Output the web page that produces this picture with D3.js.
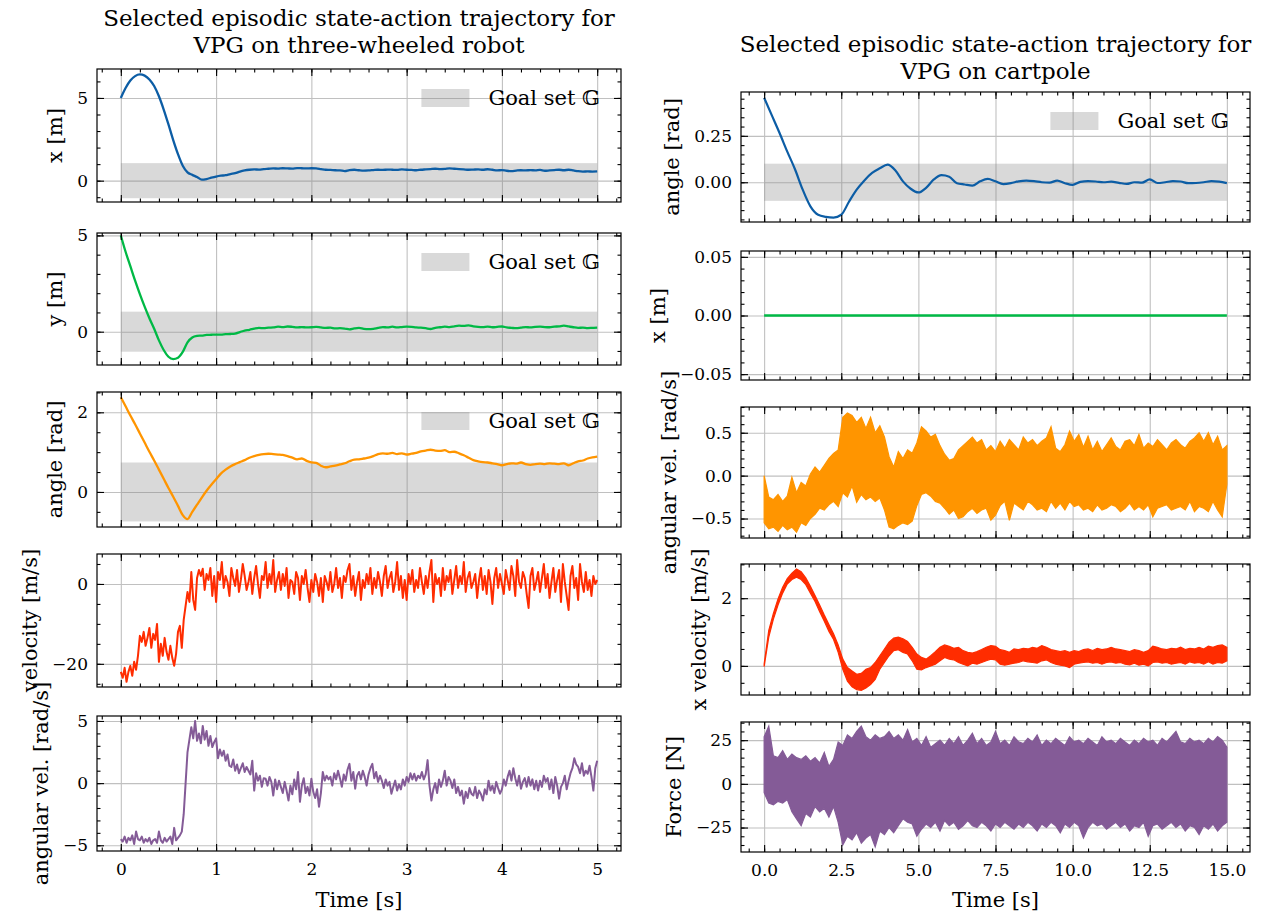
<!DOCTYPE html>
<html>
<head>
<meta charset="utf-8">
<script src="https://cdn.jsdelivr.net/npm/d3@7"></script>
<style>
  body { margin: 0; background: #fff; }
  svg text { font-family: "DejaVu Serif", "Liberation Serif", serif; fill: #000; }
  .tick text { font-size: 17px; }
  .ylabel, .xlabel, .legend { font-size: 21px; }
  .title { font-size: 23px; }
</style>
</head>
<body>
<svg id="fig" width="1262" height="917"></svg>
<script>
// ---------------- three-wheeled robot (sampled every 0.05 s / 0.02 s) ----------------
const robotTime = d3.range(0, 5.0001, 0.05);
const robotX = [5.00,5.60,6.05,6.32,6.42,6.35,6.12,5.72,5.10,4.30,3.40,2.45,1.60,0.90,0.50,0.35,0.22,0.06,0.10,0.18,
  0.25,0.30,0.33,0.40,0.45,0.55,0.62,0.66,0.68,0.67,0.70,0.72,0.74,0.73,0.75,0.74,0.73,0.76,0.75,0.74,
  0.75,0.74,0.70,0.66,0.65,0.63,0.62,0.58,0.64,0.66,0.63,0.61,0.62,0.64,0.66,0.65,0.67,0.66,0.65,0.68,
  0.66,0.65,0.63,0.66,0.68,0.70,0.72,0.70,0.71,0.74,0.72,0.70,0.68,0.66,0.67,0.68,0.66,0.69,0.66,0.62,
  0.64,0.60,0.58,0.61,0.63,0.62,0.64,0.62,0.65,0.60,0.62,0.64,0.66,0.63,0.66,0.62,0.57,0.55,0.56,0.55,0.56];
const robotY = [5.00,4.15,3.40,2.65,1.95,1.30,0.70,0.15,-0.45,-0.95,-1.30,-1.42,-1.35,-1.05,-0.55,-0.30,-0.22,-0.20,-0.17,-0.16,
  -0.15,-0.15,-0.13,-0.12,-0.10,-0.02,0.06,0.10,0.16,0.20,0.18,0.21,0.22,0.26,0.24,0.27,0.25,0.22,0.24,0.22,
  0.23,0.25,0.22,0.20,0.21,0.17,0.18,0.16,0.12,0.17,0.20,0.15,0.13,0.15,0.20,0.24,0.22,0.26,0.22,0.24,
  0.26,0.25,0.22,0.21,0.18,0.14,0.20,0.23,0.26,0.24,0.28,0.31,0.30,0.33,0.28,0.25,0.24,0.26,0.23,0.25,
  0.27,0.22,0.20,0.18,0.21,0.24,0.22,0.25,0.26,0.24,0.23,0.26,0.28,0.31,0.27,0.23,0.20,0.21,0.19,0.20,0.21];
const robotAngle = [2.38,2.15,1.92,1.70,1.47,1.24,1.01,0.79,0.56,0.33,0.10,-0.12,-0.35,-0.58,-0.68,-0.50,-0.32,-0.14,0.03,0.18,
  0.32,0.46,0.56,0.64,0.70,0.75,0.80,0.86,0.90,0.93,0.95,0.96,0.95,0.94,0.93,0.90,0.86,0.82,0.84,0.78,
  0.74,0.73,0.66,0.62,0.64,0.66,0.69,0.72,0.77,0.81,0.82,0.84,0.86,0.90,0.95,0.97,0.96,0.98,0.95,0.97,
  0.94,0.96,0.98,1.02,1.04,1.06,1.04,1.03,1.05,1.00,1.01,0.97,0.92,0.86,0.80,0.77,0.75,0.74,0.72,0.70,
  0.67,0.70,0.72,0.71,0.74,0.70,0.68,0.70,0.71,0.70,0.72,0.71,0.70,0.72,0.67,0.72,0.77,0.79,0.84,0.87,0.89];

const robotFastTime = d3.range(0, 5.0001, 0.02);
const robotVel = [-22.0,-23.5,-21.0,-24.5,-22.0,-20.5,-23.0,-19.5,-21.5,-18.0,
  -13.0,-14.5,-12.0,-15.5,-13.5,-11.0,-16.0,-12.5,-14.0,-10.0,
  -19.5,-15.0,-18.0,-13.5,-17.0,-19.0,-15.5,-18.5,-20.5,-17.5,
  -12.0,-10.5,-16.0,-9.0,-5.5,-2.0,-4.5,3.0,-4.0,-6.5,
  1.5,3.5,2.0,3.8,-1.5,2.5,1.0,4.0,-3.0,2.0,
  -4.5,3.0,1.0,5.5,-1.0,2.0,0.5,-3.0,4.0,1.5,
  -0.5,3.5,-2.0,1.0,5.0,2.0,-1.5,0.5,3.0,-2.5,
  1.5,4.5,0.0,-3.5,2.0,1.0,5.5,-1.0,2.5,0.0,
  6.0,-2.0,1.0,3.0,-1.5,2.5,-0.5,4.0,-3.5,1.0,
  0.5,-2.5,3.0,1.5,-4.0,2.0,0.0,3.5,-1.0,-4.5,
  1.0,-2.0,2.5,0.5,-3.0,1.5,-4.5,2.0,0.5,-1.5,
  3.0,-2.0,0.0,4.0,-1.0,1.5,-3.5,2.0,0.5,3.5,
  5.0,-1.5,2.0,-3.0,0.5,3.0,-4.0,1.0,-1.0,2.5,
  0.0,4.0,-2.5,1.5,-1.0,3.0,0.5,-3.0,2.0,4.5,
  -1.0,1.5,3.0,-2.0,0.5,5.5,-1.5,2.0,-3.5,1.0,
  -4.0,2.5,0.0,3.5,-2.0,1.0,-1.0,4.0,0.5,-2.5,
  2.0,-1.0,3.0,6.0,-4.5,2.5,0.0,1.5,-3.0,4.0,
  -1.5,2.0,0.5,3.5,-2.5,1.0,4.5,-1.0,2.0,0.0,
  5.5,-2.0,1.5,3.0,-1.0,0.5,2.5,-3.5,1.0,4.0,
  -1.5,2.0,-2.5,3.5,0.5,-5.0,1.5,4.0,-1.0,2.5,
  0.0,-2.5,3.5,1.0,-1.5,4.5,2.0,-3.0,6.0,0.5,
  -1.0,3.0,1.5,-2.5,-6.0,2.0,4.0,-1.5,0.5,3.0,
  -2.0,1.5,5.0,-1.0,2.5,-3.5,0.5,4.0,-2.0,1.0,
  3.5,-4.5,5.0,0.5,-3.0,-6.5,2.0,4.5,-1.0,1.5,
  -4.0,5.0,0.5,-2.0,3.0,-1.5,1.0,-3.0,2.0,0.0,
  1.0];
const robotAngVel = [-4.5,-4.7,-4.3,-4.8,-4.4,-4.6,-4.2,-4.9,-3.9,-4.5,
  -4.6,-4.3,-4.8,-4.5,-4.7,-4.4,-4.9,-4.6,-4.5,-4.8,
  -3.9,-4.6,-4.8,-4.4,-4.7,-4.5,-4.3,-4.9,-3.6,-4.6,
  -4.4,-4.2,-3.9,-2.5,0.0,2.5,3.5,4.5,3.6,5.0,
  3.4,4.0,3.2,4.6,3.5,4.2,3.0,3.8,2.9,3.3,
  3.6,2.0,2.7,2.2,2.6,1.8,2.3,1.4,1.3,1.9,
  1.0,1.5,0.8,1.2,1.6,0.9,1.3,1.0,0.7,1.8,
  -0.6,0.8,0.2,0.6,-0.3,0.4,0.35,-0.2,0.5,0.1,
  -1.0,0.3,-0.5,0.2,-0.3,-0.8,0.1,-0.6,-1.4,-0.2,
  -0.9,0.3,-0.5,0.9,-1.5,-0.2,0.4,-0.8,-0.3,-1.0,
  0.35,-0.7,-1.2,-0.5,-1.9,-0.8,0.9,0.2,0.6,0.3,
  0.5,-0.2,0.8,0.3,1.0,0.4,-0.3,0.7,0.2,1.1,
  1.55,0.2,0.9,-0.45,0.6,0.9,0.3,1.0,0.5,-0.2,
  0.7,1.2,1.55,0.4,0.9,0.1,0.6,0.2,-0.4,0.3,
  -0.2,0.1,-0.85,-0.3,0.2,-0.6,-0.1,-0.5,0.3,-0.2,
  0.5,0.1,0.8,0.3,0.75,0.2,0.6,0.4,0.9,0.3,
  0.7,1.85,-0.2,-1.4,-0.5,0.0,-0.8,0.3,-0.3,0.2,
  1.0,-0.2,0.5,0.2,-0.4,0.3,-0.8,-0.3,-1.0,-0.6,
  -1.65,-0.7,-1.2,-0.4,-0.85,-1.0,-0.3,-1.2,-0.6,-0.9,
  -1.4,-0.5,-0.9,0.2,-0.6,-0.2,-0.8,0.1,-0.4,-0.85,
  -0.5,0.3,-0.2,0.5,1.0,0.2,1.2,0.4,-0.2,0.6,
  -0.45,0.1,0.4,-0.3,0.5,-0.2,0.3,-0.5,0.2,-0.6,
  0.2,-0.3,0.6,0.1,0.4,-0.5,0.3,-0.8,0.5,-0.2,
  -1.25,-0.3,0.0,0.6,-0.5,0.2,0.8,1.2,2.0,1.5,
  1.3,0.8,1.6,0.6,1.0,0.75,1.4,0.5,-0.6,1.2,
  1.8];

// ---------------- cartpole ----------------
const cartSlowTime = d3.range(0, 15.0001, 0.25);
const cartAngle = [0.455,0.36,0.265,0.165,0.07,-0.04,-0.13,-0.175,-0.186,-0.19,-0.175,-0.105,-0.04,0.01,0.05,0.075,0.095,0.065,0.005,-0.035,
  -0.055,-0.03,0.015,0.038,0.03,-0.005,-0.012,-0.018,0.005,0.018,0.005,-0.01,-0.005,0.005,0.009,0.006,0.0,-0.002,0.009,-0.005,
  -0.014,0.002,0.006,0.004,0.0,0.003,-0.003,-0.009,0.0,-0.002,0.016,-0.004,0.0,0.006,0.004,-0.005,-0.004,0.0,0.006,0.003,-0.005];
const cartXTime = [0, 15];
const cartX = [0, 0];

// noisy cartpole signals: upper / lower envelope every 0.15 s
const cartBandTime = d3.range(0, 15.0001, 0.15);
const cartAngVelHigh = [0.00,-0.25,-0.28,-0.22,-0.30,-0.24,-0.02,-0.20,-0.08,-0.12,0.02,0.10,0.04,0.12,0.20,0.26,0.30,0.68,0.73,0.70,
  0.62,0.68,0.55,0.68,0.50,0.58,0.45,0.22,0.10,0.28,0.20,0.30,0.26,0.38,0.57,0.52,0.45,0.48,0.35,0.25,
  0.18,0.20,0.30,0.35,0.40,0.45,0.38,0.42,0.30,0.35,0.28,0.40,0.32,0.42,0.36,0.30,0.45,0.38,0.42,0.35,
  0.40,0.44,0.57,0.32,0.28,0.36,0.52,0.40,0.48,0.33,0.46,0.30,0.40,0.28,0.36,0.44,0.34,0.30,0.40,0.42,
  0.35,0.48,0.32,0.38,0.34,0.42,0.36,0.30,0.38,0.42,0.36,0.32,0.40,0.44,0.50,0.40,0.50,0.36,0.46,0.30,0.35];
const cartAngVelLow = [-0.55,-0.62,-0.60,-0.65,-0.58,-0.63,-0.60,-0.66,-0.55,-0.58,-0.50,-0.45,-0.38,-0.40,-0.34,-0.30,-0.36,-0.20,-0.25,-0.12,
  -0.31,-0.22,-0.28,-0.25,-0.30,-0.26,-0.40,-0.60,-0.62,-0.58,-0.55,-0.57,-0.53,-0.35,-0.22,-0.20,-0.24,-0.30,-0.32,-0.38,
  -0.45,-0.40,-0.50,-0.48,-0.42,-0.38,-0.44,-0.40,-0.38,-0.52,-0.46,-0.35,-0.30,-0.52,-0.32,-0.36,-0.40,-0.30,-0.34,-0.40,
  -0.38,-0.42,-0.30,-0.38,-0.32,-0.40,-0.30,-0.36,-0.34,-0.40,-0.38,-0.42,-0.34,-0.40,-0.38,-0.34,-0.36,-0.42,-0.38,-0.32,
  -0.40,-0.36,-0.40,-0.34,-0.48,-0.38,-0.36,-0.34,-0.40,-0.38,-0.36,-0.40,-0.30,-0.42,-0.36,-0.38,-0.42,-0.30,-0.40,-0.48,-0.10];
const cartVelHigh = [0.05,1.05,1.55,1.98,2.32,2.58,2.74,2.86,2.78,2.60,2.35,2.08,1.80,1.50,1.22,0.95,0.62,0.20,-0.05,-0.15,
  -0.25,-0.22,-0.10,-0.05,0.10,0.30,0.50,0.70,0.82,0.85,0.80,0.72,0.55,0.35,0.25,0.20,0.30,0.42,0.55,0.62,
  0.58,0.52,0.55,0.45,0.40,0.38,0.42,0.48,0.55,0.60,0.58,0.48,0.45,0.40,0.50,0.48,0.52,0.50,0.55,0.52,
  0.60,0.55,0.48,0.45,0.42,0.45,0.40,0.45,0.42,0.48,0.50,0.45,0.52,0.48,0.50,0.55,0.50,0.48,0.45,0.42,
  0.48,0.45,0.40,0.45,0.58,0.55,0.50,0.48,0.52,0.50,0.55,0.48,0.52,0.50,0.55,0.50,0.58,0.55,0.60,0.62,0.55];
const cartVelLow = [-0.02,0.85,1.38,1.80,2.15,2.42,2.55,2.62,2.55,2.40,2.15,1.90,1.60,1.32,1.02,0.78,0.40,-0.10,-0.45,-0.62,
  -0.70,-0.72,-0.65,-0.55,-0.40,-0.10,0.10,0.30,0.45,0.48,0.40,0.35,0.15,-0.10,-0.12,-0.05,0.00,0.05,0.15,0.25,
  0.20,0.18,0.10,0.05,0.00,0.08,0.05,0.10,0.15,0.20,0.18,0.05,0.02,0.05,0.08,0.10,0.15,0.12,0.10,0.08,
  0.15,0.18,0.10,0.05,0.02,0.00,-0.05,0.05,0.08,0.10,0.12,0.08,0.10,0.05,0.10,0.12,0.08,0.10,0.05,0.03,
  0.08,0.02,0.05,0.00,0.10,0.12,0.08,0.10,0.05,0.08,0.10,0.05,0.12,0.08,0.10,0.05,0.12,0.05,0.10,0.08,0.15];
const cartForceHigh = [27,33,16,15,19,14,17,15,14,16,13,15,12,18,10,14,24,22,28,26,
  30,33,27,25,28,26,27,30,26,28,25,31,24,26,22,27,21,23,25,22,
  26,23,27,22,25,29,23,26,22,24,30,23,25,22,27,24,23,26,24,28,
  22,25,23,26,24,22,27,24,25,23,26,24,22,27,24,25,23,26,24,22,
  25,23,26,24,25,22,26,24,27,30,24,23,26,24,25,23,26,24,27,25,21];
const cartForceLow = [-5,-11,-12,-10,-11,-9,-16,-20,-24,-17,-19,-13,-16,-14,-19,-13,-22,-35,-30,-32,
  -28,-34,-31,-29,-36,-27,-29,-25,-28,-24,-20,-22,-23,-30,-26,-23,-25,-22,-27,-21,
  -24,-22,-26,-24,-21,-24,-25,-22,-24,-27,-23,-25,-22,-24,-26,-23,-25,-22,-24,-27,
  -23,-25,-22,-24,-28,-23,-25,-22,-24,-31,-25,-22,-24,-23,-26,-24,-22,-25,-23,-27,
  -24,-25,-22,-30,-24,-23,-26,-24,-22,-25,-23,-27,-24,-25,-29,-24,-26,-23,-27,-24,-22];

const palette = ["#0C5DA5", "#00B945", "#FF9500", "#FF2C00", "#845B97"];
const goalColor = "#808080";
const goalAlpha = 0.3;

const svg = d3.select("#fig");
const fmtInt = d3.format("d");

const leftX = { x0: 97, x1: 621, domain: [-0.25, 5.25], major: d3.range(0, 5.01, 1), minor: d3.range(-0.2, 5.21, 0.2), fmt: fmtInt };
const rightX = { x0: 741, x1: 1250, domain: [-0.75, 15.75], major: d3.range(0, 15.01, 2.5), minor: d3.range(-0.5, 15.51, 0.5), fmt: d3.format(".1f") };

function drawPanel(p) {
  const w = p.col.x1 - p.col.x0, h = p.bottom - p.top;
  const g = svg.append("g").attr("transform", `translate(${p.col.x0},${p.top})`);
  const x = d3.scaleLinear().domain(p.col.domain).range([0, w]);
  const y = d3.scaleLinear().domain(p.yDomain).range([h, 0]);

  // grid
  g.append("g").call(d3.axisBottom(x).tickValues(p.col.major).tickSize(h).tickFormat(""))
    .call(a => a.select(".domain").remove())
    .selectAll("line").attr("stroke", "#c0c0c0").attr("stroke-width", 1.1);
  g.append("g").call(d3.axisRight(y).tickValues(p.yMajor).tickSize(w).tickFormat(""))
    .call(a => a.select(".domain").remove())
    .selectAll("line").attr("stroke", "#c0c0c0").attr("stroke-width", 1.1);

  // goal set
  if (p.goal) {
    g.append("rect")
      .attr("x", x(0)).attr("width", x(p.tEnd) - x(0))
      .attr("y", y(p.goal)).attr("height", y(-p.goal) - y(p.goal))
      .attr("fill", goalColor).attr("fill-opacity", goalAlpha);
  }

  p.draw(g, x, y);

  // ticks on all four sides, pointing inward
  const addAxis = (axis, tr, values, size, fmt, pad) => {
    const a = g.append("g").attr("transform", tr)
      .call(axis.tickValues(values).tickSize(size).tickPadding(pad).tickFormat(fmt))
      .attr("font-size", null).attr("font-family", null);
    a.select(".domain").remove();
    a.selectAll("line").attr("stroke", "#000").attr("stroke-width", 1.1);
    return a;
  };
  const none = () => "";
  addAxis(d3.axisBottom(x), `translate(0,${h})`, p.col.minor, -3.5, none, 0);
  addAxis(d3.axisTop(x), "translate(0,0)", p.col.minor, -3.5, none, 0);
  addAxis(d3.axisLeft(y), "translate(0,0)", p.yMinor, -3.5, none, 0);
  addAxis(d3.axisRight(y), `translate(${w},0)`, p.yMinor, -3.5, none, 0);
  addAxis(d3.axisBottom(x), `translate(0,${h})`, p.col.major, -7, p.showX ? p.col.fmt : none, 12);
  addAxis(d3.axisTop(x), "translate(0,0)", p.col.major, -7, none, 0);
  const yAx = addAxis(d3.axisLeft(y), "translate(0,0)", p.yMajor, -7, p.yFmt, 9);
  addAxis(d3.axisRight(y), `translate(${w},0)`, p.yMajor, -7, none, 0);

  g.append("rect").attr("width", w).attr("height", h)
    .attr("fill", "none").attr("stroke", "#000").attr("stroke-width", 1.2);

  // y label placed just left of the widest tick label
  const minLeft = d3.min(yAx.selectAll("text").nodes(), n => n.getBoundingClientRect().left);
  const lab = svg.append("text").attr("class", "ylabel").attr("text-anchor", "middle")
    .attr("transform", `translate(0,${p.top + h / 2}) rotate(-90)`).text(p.label);
  const r = lab.node().getBoundingClientRect();
  lab.attr("transform", `translate(${minLeft - 10 - r.right},${p.top + h / 2}) rotate(-90)`);

  if (p.legend) {
    const lg = svg.append("g");
    const txt = lg.append("text").attr("class", "legend").attr("text-anchor", "end")
      .attr("x", p.col.x1 - 21).attr("y", p.top + 36).text("Goal set \u{1D53E}");
    const tx = txt.node().getBBox().x;
    lg.append("rect").attr("x", tx - 19 - 48).attr("y", p.top + 20).attr("width", 48).attr("height", 18)
      .attr("fill", goalColor).attr("fill-opacity", goalAlpha);
  }
}

const lineOf = (ts, vs, color, width, curve) => (g, x, y) => {
  g.append("path").datum(vs.map((v, i) => [ts[i], v]))
    .attr("fill", "none").attr("stroke", color).attr("stroke-width", width)
    .attr("stroke-linejoin", "round")
    .attr("d", d3.line().curve(curve || d3.curveLinear).x(d => x(d[0])).y(d => y(d[1])));
};
const bandOf = (ts, lo, hi, color) => (g, x, y) => {
  g.append("path").datum(ts.map((t, i) => [t, lo[i], hi[i]]))
    .attr("fill", color).attr("stroke", color).attr("stroke-width", 1.2)
    .attr("d", d3.area().x(d => x(d[0])).y0(d => y(d[1])).y1(d => y(d[2])));
};
const smooth = d3.curveMonotoneX;

// left column: three-wheeled robot
drawPanel({ col: leftX, top: 69, bottom: 202, yDomain: [-1.29, 6.75], yMajor: [0, 5], yMinor: d3.range(-1, 6.1, 1),
  yFmt: fmtInt, label: "x [m]", goal: 1.06, tEnd: 5, legend: true, draw: lineOf(robotTime, robotX, palette[0], 2.3, smooth) });
drawPanel({ col: leftX, top: 233, bottom: 365, yDomain: [-1.73, 5.125], yMajor: [0, 5], yMinor: d3.range(-1, 5.1, 1),
  yFmt: fmtInt, label: "y [m]", goal: 1.04, tEnd: 5, legend: true, draw: lineOf(robotTime, robotY, palette[1], 2.3, smooth) });
drawPanel({ col: leftX, top: 392, bottom: 527, yDomain: [-0.88, 2.51], yMajor: [0, 2], yMinor: d3.range(-0.5, 2.51, 0.5),
  yFmt: fmtInt, label: "angle [rad]", goal: 0.74, tEnd: 5, legend: true, draw: lineOf(robotTime, robotAngle, palette[2], 2.3, smooth) });
drawPanel({ col: leftX, top: 554, bottom: 687, yDomain: [-25.8, 7.5], yMajor: [-20, 0], yMinor: d3.range(-25, 5.1, 5),
  yFmt: fmtInt, label: "velocity [m/s]", draw: lineOf(robotFastTime, robotVel, palette[3], 2) });
drawPanel({ col: leftX, top: 716, bottom: 851, yDomain: [-5.46, 5.4], yMajor: [-5, 0, 5], yMinor: d3.range(-5, 5.1, 1),
  yFmt: fmtInt, label: "angular vel. [rad/s]", showX: true, draw: lineOf(robotFastTime, robotAngVel, palette[4], 2) });

// right column: cartpole
drawPanel({ col: rightX, top: 92, bottom: 222, yDomain: [-0.214, 0.486], yMajor: [0, 0.25], yMinor: d3.range(-0.2, 0.451, 0.05),
  yFmt: d3.format(".2f"), label: "angle [rad]", goal: 0.1, tEnd: 15, legend: true, draw: lineOf(cartSlowTime, cartAngle, palette[0], 2.2, smooth) });
drawPanel({ col: rightX, top: 251, bottom: 380, yDomain: [-0.055, 0.055], yMajor: [-0.05, 0, 0.05], yMinor: d3.range(-0.05, 0.0501, 0.01),
  yFmt: d3.format(".2f"), label: "x [m]", draw: lineOf(cartXTime, cartX, palette[1], 2.4) });
drawPanel({ col: rightX, top: 407, bottom: 538, yDomain: [-0.727, 0.80], yMajor: [-0.5, 0, 0.5], yMinor: d3.range(-0.7, 0.801, 0.1),
  yFmt: d3.format(".1f"), label: "angular vel. [rad/s]", draw: bandOf(cartBandTime, cartAngVelLow, cartAngVelHigh, palette[2]) });
drawPanel({ col: rightX, top: 564, bottom: 695, yDomain: [-0.86, 3.01], yMajor: [0, 2], yMinor: d3.range(-0.5, 3.01, 0.5),
  yFmt: fmtInt, label: "x velocity [m/s]", draw: bandOf(cartBandTime, cartVelLow, cartVelHigh, palette[3]) });
drawPanel({ col: rightX, top: 722, bottom: 852, yDomain: [-39, 35.4], yMajor: [-25, 0, 25], yMinor: d3.range(-35, 35.1, 5),
  yFmt: fmtInt, label: "Force [N]", showX: true, draw: bandOf(cartBandTime, cartForceLow, cartForceHigh, palette[4]) });

// titles and x labels
const titles = [
  { cx: 359, y: 26, lines: ["Selected episodic state-action trajectory for", "VPG on three-wheeled robot"] },
  { cx: 995.5, y: 52, lines: ["Selected episodic state-action trajectory for", "VPG on cartpole"] }
];
titles.forEach(t => {
  const txt = svg.append("text").attr("class", "title").attr("text-anchor", "middle");
  t.lines.forEach((l, i) => txt.append("tspan").attr("x", t.cx).attr("y", t.y + i * 27).text(l));
});
[359, 995.5].forEach(cx => svg.append("text").attr("class", "xlabel").attr("text-anchor", "middle")
  .attr("x", cx).attr("y", 907).text("Time [s]"));
</script>
</body>
</html>
